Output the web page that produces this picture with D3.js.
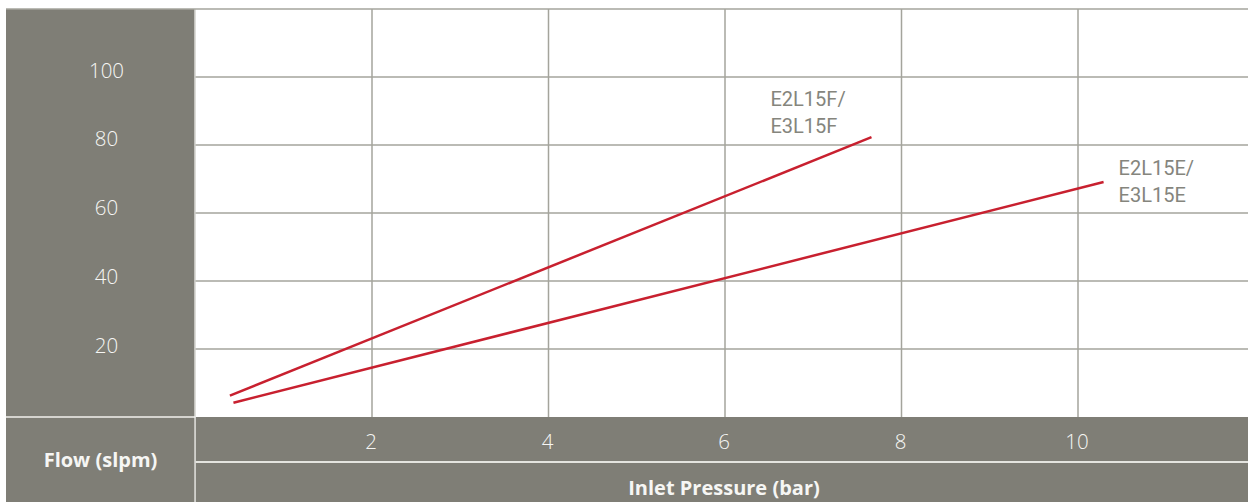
<!DOCTYPE html>
<html>
<head>
<meta charset="utf-8">
<script src="https://cdn.jsdelivr.net/npm/d3@7"></script>
<style>
  html, body { margin: 0; padding: 0; background: #ffffff; }
  svg { display: block; }
</style>
</head>
<body>
<svg id="chart" width="1248" height="502"></svg>
<script>
// ---- data ----
const yTicks = [20, 40, 60, 80, 100];
const xTicks = [2, 4, 6, 8, 10];
const seriesNames = ["E2L15F/\nE3L15F", "E2L15E/\nE3L15E"];
const seriesF = [[0.39, 6.3], [7.66, 82.3]];
const seriesE = [[0.43, 4.2], [10.29, 69.1]];
const yAxisTitle = "Flow (slpm)";
const xAxisTitle = "Inlet Pressure (bar)";

// ---- layout ----
const W = 1248, H = 502;
const panelLeft = 6, plotLeft = 195.5, plotTop = 9, plotBottom = 417, bandMid = 462;
const panelColor = "#7f7e76";
const gridColor = "#a4a49c";
const lineColor = "#c8202f";
const labelColor = "#85857d";
const tickTextColor = "#f6f6f4";

const svg = d3.select("#chart");
const x = d3.scaleLinear().domain([0, 12]).range([plotLeft, plotLeft + 12 * 88.25]);
const y = d3.scaleLinear().domain([0, 120]).range([plotBottom, plotTop]);

// left panel
svg.append("rect").attr("x", panelLeft).attr("y", plotTop).attr("width", plotLeft - panelLeft).attr("height", H - plotTop).attr("fill", panelColor);
// bottom bands
svg.append("rect").attr("x", plotLeft).attr("y", plotBottom).attr("width", W - plotLeft).attr("height", H - plotBottom).attr("fill", panelColor);
// white separators
svg.append("line").attr("x1", panelLeft).attr("x2", plotLeft).attr("y1", plotBottom).attr("y2", plotBottom).attr("stroke", "#f2f2ee").attr("stroke-width", 1.5);
svg.append("line").attr("x1", plotLeft - 0.5).attr("x2", plotLeft - 0.5).attr("y1", plotTop).attr("y2", H).attr("stroke", "#f2f2ee").attr("stroke-width", 1.2);
svg.append("line").attr("x1", plotLeft).attr("x2", W).attr("y1", bandMid).attr("y2", bandMid).attr("stroke", "#e4e4df").attr("stroke-width", 2);

// grid
const g = svg.append("g");
g.selectAll("line.h").data(yTicks).join("line")
  .attr("x1", plotLeft).attr("x2", W)
  .attr("y1", d => y(d)).attr("y2", d => y(d))
  .attr("stroke", gridColor).attr("stroke-width", 1.5);
g.append("line").attr("x1", panelLeft).attr("x2", W).attr("y1", y(120)).attr("y2", y(120))
  .attr("stroke", gridColor).attr("stroke-width", 1.5);
g.selectAll("line.v").data(xTicks).join("line")
  .attr("x1", d => x(d)).attr("x2", d => x(d))
  .attr("y1", y(120)).attr("y2", plotBottom)
  .attr("stroke", gridColor).attr("stroke-width", 1.5);

// tick labels
const tickFont = "'Open Sans', 'Noto Sans', sans-serif";
svg.append("g").selectAll("text").data(yTicks).join("text")
  .attr("x", 106.5).attr("y", d => y(d) - 4.5 - (d - 20) * 0.0375)
  .attr("text-anchor", "middle").attr("dominant-baseline", "central")
  .attr("font-family", tickFont).attr("font-weight", 300).attr("font-size", 20.5)
  .attr("fill", tickTextColor).text(d => d);
svg.append("g").selectAll("text").data(xTicks).join("text")
  .attr("x", d => x(d) - 1).attr("y", 440.5)
  .attr("text-anchor", "middle").attr("dominant-baseline", "central")
  .attr("font-family", tickFont).attr("font-weight", 300).attr("font-size", 20.5)
  .attr("fill", tickTextColor).text(d => d);

// axis titles
svg.append("text").attr("x", 100.5).attr("y", 459)
  .attr("text-anchor", "middle").attr("dominant-baseline", "central")
  .attr("font-family", tickFont).attr("font-weight", 700).attr("font-size", 20)
  .attr("fill", tickTextColor).text(yAxisTitle);
svg.append("text").attr("x", 724).attr("y", 487)
  .attr("text-anchor", "middle").attr("dominant-baseline", "central")
  .attr("font-family", tickFont).attr("font-weight", 700).attr("font-size", 20)
  .attr("fill", tickTextColor).text(xAxisTitle);

// lines
const line = d3.line().x(d => x(d[0])).y(d => y(d[1]));
const series = [seriesF, seriesE];
svg.append("g").selectAll("path").data(series).join("path")
  .attr("d", line).attr("fill", "none")
  .attr("stroke", lineColor).attr("stroke-width", 2.5);

// series labels
const labelOffsets = [[-101, -31], [15, -7]];
series.forEach((s, i) => {
  const end = s[s.length - 1];
  const t = svg.append("text")
    .attr("font-family", "Roboto, sans-serif").attr("font-size", 20)
    .attr("fill", labelColor);
  seriesNames[i].split("\n").forEach((ln, j) => {
    t.append("tspan").attr("x", x(end[0]) + labelOffsets[i][0])
      .attr("y", y(end[1]) + labelOffsets[i][1] + j * 26.5).text(ln);
  });
});
</script>
</body>
</html>
